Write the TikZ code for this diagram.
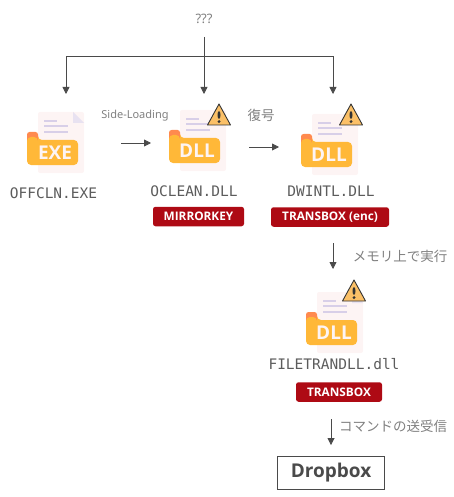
\documentclass[tikz,border=0pt]{standalone}
\usepackage{fontspec}
\setmainfont{Noto Sans}
\setmonofont{DejaVu Sans Mono}
\newfontfamily\jpfont{Noto Sans CJK JP}
\newfontfamily\heavyfont{Open Sans Bold}
\usetikzlibrary{arrows.meta,positioning}
\definecolor{inkgray}{HTML}{4A4A4A}
\definecolor{softgray}{HTML}{808080}
\definecolor{badgered}{HTML}{AE0A14}
\definecolor{foldyellow}{HTML}{FFB838}
\definecolor{taborange}{HTML}{FF8A4E}
\definecolor{paperpink}{HTML}{FDF4F4}
\definecolor{linelilac}{HTML}{D8CFE8}
\definecolor{warnfill}{HTML}{FBC067}
\tikzset{
  filelabel/.style={font=\ttfamily\fontsize{14.5}{16}\selectfont, text=inkgray!90, inner sep=0pt},
  note/.style={font=\fontsize{11}{14}\selectfont, text=softgray, inner sep=0pt},
  jpnote/.style={font=\jpfont\fontsize{13.5}{15}\selectfont, text=softgray, inner sep=0pt},
  badge/.style={fill=badgered, rounded corners=2.5pt, text=white, inner sep=0pt,
    minimum height=19.5pt, font=\heavyfont\fontsize{11.8}{13}\selectfont},
  arr/.style={-{Triangle[length=7pt,width=7pt]}, line width=0.8pt, draw=inkgray},
  fileicon/.pic={
    \fill[paperpink, rounded corners=2pt] (11,-28) rectangle (57,33);
    \fill[linelilac!60] (46,-28) -- (57,-17) -- (46,-17) -- cycle;
    \foreach \ya/\xb in {-19/30,-14/41,-8/41} {
      \draw[linelilac, line width=1.6pt] (17,\ya) -- (\xb,\ya);
    }
    \fill[tabfill, rounded corners=2.5pt] (0,6) -- (0,-8) -- (11,-8) -- (11,6) -- cycle;
    \fill[foldyellow, rounded corners=4pt] (0,-3) -- (0,25) -- (51,25) -- (51,0) -- (11,0) -- (11,-3) -- cycle;
    \node[font=\heavyfont\fontsize{19}{21}\selectfont, text=paperpink, inner sep=0pt] (-kind) at (28,13) {#1};
  },
  warnsign/.pic={
    \draw[fill=warnfill, draw=black!80, line width=0.9pt, line join=round] (0,0) -- (11.5,21) -- (-11.5,21) -- cycle;
    \fill[black!80] (0,11) ellipse (1.5pt and 4pt);
    \fill[black!80] (0,17.6) circle (1.6pt);
  },
  tabfill/.style={fill=taborange}
}
\begin{document}
\begin{tikzpicture}[x=1pt,y=-1pt]
  \useasboundingbox (0,0) rectangle (454,497);
  % icons
  \pic (exeicon) at (27,140) {fileicon={EXE}};
  \pic (ocleanicon) at (169,138) {fileicon={DLL}};
  \pic (dwinticon) at (301,142) {fileicon={DLL}};
  \pic (trandllicon) at (306,320) {fileicon={DLL}};
  \pic at (219,104) {warnsign};
  \pic at (351,104) {warnsign};
  \pic at (354,280) {warnsign};
  % labels
  \node[note, font=\fontsize{13}{15}\selectfont] (unknown) at (204,19) {???};
  \node[filelabel] (offcln) at (53.5,193) {OFFCLN.EXE};
  \node[filelabel] (oclean) at (194,191) {OCLEAN.DLL};
  \node[filelabel] (dwintl) at (331,191) {DWINTL.DLL};
  \node[filelabel] (filetran) at (334,364) {FILETRANDLL.dll};
  \node[badge, minimum width=91pt] (mirrorkey) at (198.5,216.5) {MIRRORKEY};
  \node[badge, minimum width=118pt] (transenc) at (330,217) {TRANSBOX (enc)};
  \node[badge, minimum width=86pt] (transbox) at (339,392) {TRANSBOX};
  \node[note] (sideload) at (135,115.5) {Side-Loading};
  \node[jpnote] (decode) at (261,115) {復号};
  \node[jpnote] (memrun) at (400,256) {メモリ上で実行};
  \node[jpnote] (cmdtalk) at (393,426) {コマンドの送受信};
  \node[draw=inkgray, line width=0.9pt, minimum width=107pt, minimum height=33pt, inner sep=0pt,
    text=inkgray, font=\heavyfont\fontsize{19}{22}\selectfont] (dropbox) at (331,472.5) {Dropbox};
  % connectors
  \coordinate (unknownout) at (204,37);
  \coordinate (branchleft) at (66,56);
  \coordinate (branchmid) at (204,56);
  \coordinate (branchright) at (333,56);
  \coordinate (exein) at (66,94);
  \coordinate (ocleanin) at (204,94);
  \coordinate (dwintin) at (333,94);
  \coordinate (sideout) at (121,143);
  \coordinate (sidein) at (151,143);
  \coordinate (decodeout) at (249,147);
  \coordinate (decodein) at (279,147);
  \coordinate (memout) at (333,243);
  \coordinate (memin) at (333,269);
  \coordinate (cmdout) at (331,419);
  \draw[arr] (unknownout) -- (ocleanin);
  \draw[arr] (branchmid) -- (branchleft) -- (exein);
  \draw[arr] (branchmid) -- (branchright) -- (dwintin);
  \draw[arr] (sideout) -- (sidein);
  \draw[arr] (decodeout) -- (decodein);
  \draw[arr] (memout) -- (memin);
  \draw[arr, shorten >=10.5pt] (cmdout) -- (dropbox.north);
\end{tikzpicture}
\end{document}
